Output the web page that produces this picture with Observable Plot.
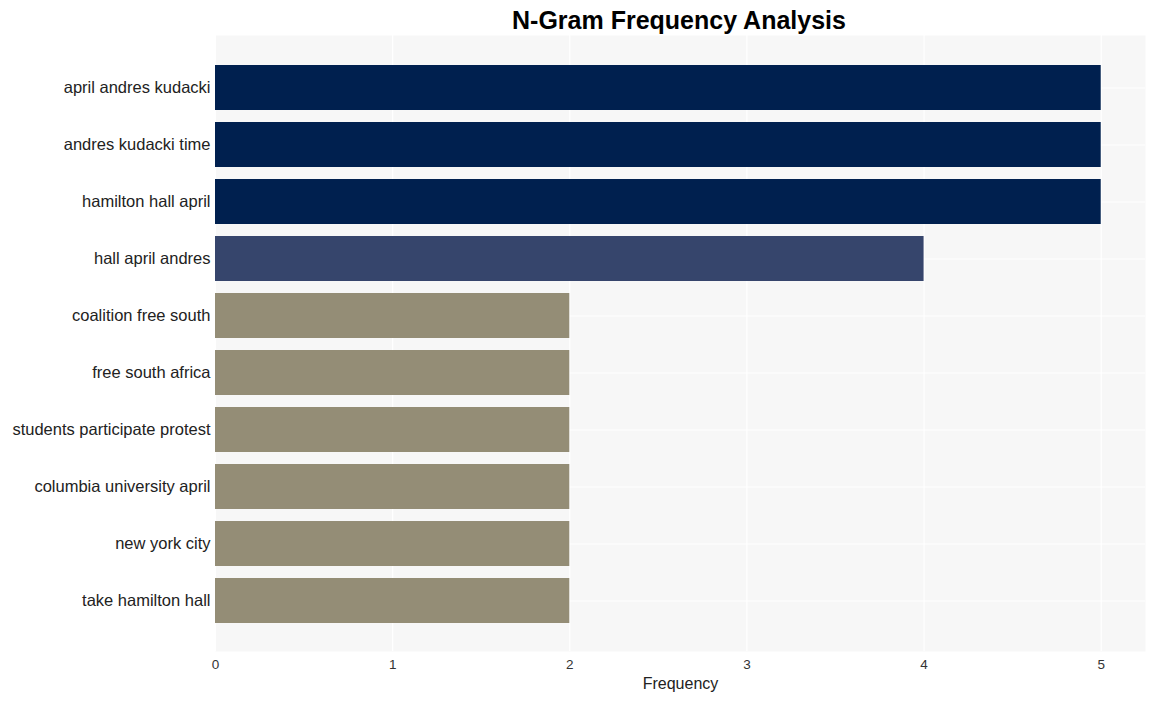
<!DOCTYPE html>
<html><head><meta charset="utf-8">
<script src="https://cdn.jsdelivr.net/npm/d3@7"></script>
<script src="https://cdn.jsdelivr.net/npm/@observablehq/plot@0.6"></script>
<style>
body{margin:0;background:#fff;font-family:"Liberation Sans",Arial,sans-serif;}
#title{height:35px;width:1154px;text-align:center;font-weight:bold;font-size:25px;line-height:40px;color:#000;padding-left:204px;box-sizing:border-box;}
</style></head><body>
<div id="title">N-Gram Frequency Analysis</div>
<div id="chart"></div>
<script>
const ngrams = ["april andres kudacki","andres kudacki time","hamilton hall april","hall april andres","coalition free south","free south africa","students participate protest","columbia university april","new york city","take hamilton hall"];
const counts = [5,5,5,4,2,2,2,2,2,2];
const barColors = {5:"#00204f",4:"#36456c",2:"#948d76"};
const xTicks = [0,1,2,3,4,5];
const data = ngrams.map((n,i)=>({ngram:n,count:counts[i]}));
const chart = Plot.plot({
  width:1154, height:666,
  marginLeft:215, marginRight:9, marginTop:0, marginBottom:50,
  style:{fontFamily:"'Liberation Sans',Arial,sans-serif",background:"#fff"},
  x:{domain:[0,5.25],ticks:xTicks,label:"Frequency"},
  y:{domain:ngrams,padding:0.215,insetTop:16.5,insetBottom:15,label:null},
  marks:[
    Plot.frame({fill:"#f7f7f7",stroke:null}),
    Plot.gridX(xTicks,{stroke:"#fff",strokeOpacity:1,strokeWidth:1.2}),
    Plot.gridY(ngrams,{stroke:"#fff",strokeOpacity:1,strokeWidth:1.2}),
    Plot.barX(data,{y:"ngram",x:"count",fill:d=>barColors[d.count]}),
    Plot.axisX(xTicks,{tickSize:0,tickPadding:8,fontSize:13.5,fill:"#333",label:null,tickFormat:d3.format("d")}),
    Plot.text(["Frequency"],{frameAnchor:"bottom",dy:37,text:d=>d,fontSize:16,fill:"#222"}),
    Plot.axisY({tickSize:0,tickPadding:5,fontSize:16.5,fill:"#222",label:null})
  ]
});
document.getElementById("chart").appendChild(chart);
</script></body></html>
